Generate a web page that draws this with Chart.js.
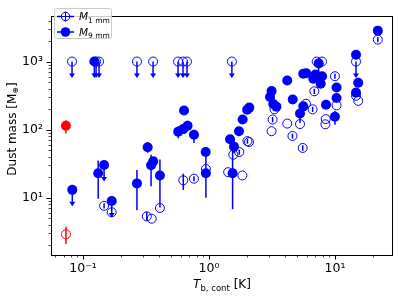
<!DOCTYPE html>
<html><head><meta charset="utf-8">
<script src="https://cdn.jsdelivr.net/npm/chart.js@4/dist/chart.umd.min.js"></script>
<style>html,body{margin:0;padding:0;background:#fff;}canvas{display:block;}</style>
</head><body>
<canvas id="c" width="399" height="297"></canvas>
<script>
// ---- data ----
// M_1mm detections (open circles)
const m1X  = [0.147, 0.169, 0.321, 0.351, 0.408, 0.625, 0.760, 0.945, 1.42, 1.84, 1.56, 1.74, 2.02, 2.08, 3.14, 3.20, 3.31, 4.18, 4.60, 5.28, 5.55, 5.89, 6.65, 6.86, 7.16, 7.90, 8.45, 8.40, 10.0, 10.3, 14.7, 15.3, 21.9];
const m1Y  = [7.64, 6.15, 5.35, 4.95, 7.1, 18.1, 19.1, 26.5, 23.8, 21.3, 43, 47, 68, 66, 95, 141, 199, 123, 81, 121, 54, 240, 199, 366, 1000, 1000, 143, 120, 609, 228, 315, 265, 2100];
const m1Lo = [7.0, null, 4.6, null, null, 13.0, 17.5, null, null, null, null, 43, 62, null, null, 129, null, null, 74, null, 49, null, 182, 335, null, null, null, null, 557, null, null, null, 1920];
const m1Hi = [8.3, null, 6.3, null, null, 22.5, 20.8, null, null, null, null, 51, 74, null, null, 154, null, null, 88, null, 59, null, 217, 400, null, null, null, null, 665, null, null, null, 2290];
// M_1mm upper limits
const m1LimX = [0.0818, 0.127, 0.134, 0.268, 0.360, 0.568, 0.622, 0.669, 1.52, 14.7];
const m1LimY = [1000, 1000, 1000, 1000, 1000, 1000, 1000, 1000, 1000, 1000];
// M_9mm detections (filled circles)
const m9X  = [0.132, 0.268, 0.326, 0.347, 0.361, 0.408, 0.570, 0.625, 0.634, 0.676, 0.760, 0.942, 0.945, 1.47, 1.58, 1.54, 1.73, 1.85, 2.01, 2.09, 3.05, 3.14, 3.24, 3.43, 4.18, 4.62, 5.28, 5.61, 5.60, 5.90, 6.73, 7.00, 7.43, 7.90, 7.70, 8.49, 10.0, 10.3, 10.3, 14.7, 15.3, 14.7, 21.9];
const m9Y  = [23.0, 16.3, 55.2, 30.1, 34.3, 21.3, 93.7, 102, 191, 114, 84.2, 47, 23, 72.3, 56.4, 23, 94.7, 141, 196, 211, 301, 370, 238, 218, 528, 277, 173, 220, 662, 676, 560, 643, 940, 608, 474, 232, 155, 417, 292, 1256, 490, 350, 2840];
const m9Lo = [9.7, 6.56, 46, 14.8, null, 7.2, 75, null, null, 95, 64, 40, 10, null, 45, 6.8, null, null, null, null, null, null, null, null, null, null, 125, null, null, null, null, null, 600, null, null, null, 118, null, null, 1100, null, null, null];
const m9Hi = [35.4, 25.6, 66, 43, null, 36.6, 112, null, null, 135, 100, 55, 40, null, 70, 60, null, null, null, null, null, null, null, null, null, null, 215, null, null, null, null, null, 1150, null, null, null, 190, null, null, 1430, null, null, null];
// M_9mm upper limits
const m9LimX = [0.0822, 0.123, 0.147, 0.169];
const m9LimY = [13.1, 1000, 30.4, 8.97];
// red source
const redX = [0.0732];
const redFillY = [114], redFillLo = [88],  redFillHi = [138];
const redOpenY = [2.92], redOpenLo = [2.11], redOpenHi = [3.78];
// axis ranges / labels
const xRange = [0.0557, 28.9];
const yRange = [1.45, 4740];
const xTitle = ['T', 'b, cont', ' [K]'];
const yTitle = ['Dust mass [M', '\u2295', ']'];
const legendLabels = [['M', '1 mm'], ['M', '9 mm']];

const BLUE = '#0000ff', RED = '#ff0000';
const F = '"DejaVu Sans"';

function pts(xs, ys){ return xs.map((x,i)=>({x:x, y:ys[i]})); }
const SUP = {'-':'\u207b','0':'\u2070','1':'\u00b9','2':'\u00b2','3':'\u00b3','4':'\u2074','5':'\u2075'};
function supStr(n){ return String(n).split('').map(c=>SUP[c]).join(''); }
function logTicks(min,max){
  const t=[];
  for(let e=-3;e<=4;e++) for(let m=1;m<=9;m++){
    const v=m*Math.pow(10,e);
    if(v>=min*0.999 && v<=max*1.001) t.push({value:v, major:m===1});
  }
  return t;
}
function tickLabel(v){
  const l=Math.log10(v), e=Math.round(l);
  return Math.abs(l-e)<1e-6 ? '10'+supStr(e) : '';
}
function rich(ctx, parts, x, y, align){
  let w=0;
  parts.forEach(p=>{ctx.font=p[1]; w+=ctx.measureText(p[0]).width;});
  let cx = align==='center' ? x-w/2 : x;
  parts.forEach(p=>{ctx.font=p[1]; ctx.fillText(p[0], cx, y+(p[2]||0)); cx+=ctx.measureText(p[0]).width;});
}

const datasets = [
  {data: pts(m1X,m1Y), errLo:m1Lo, errHi:m1Hi, pointRadius:4.5, borderWidth:1, borderColor:BLUE, backgroundColor:'rgba(0,0,0,0)'},
  {data: pts(m1LimX,m1LimY), upper:true, pointRadius:4.5, borderWidth:1, borderColor:BLUE, backgroundColor:'rgba(0,0,0,0)'},
  {data: pts(m9X,m9Y), errLo:m9Lo, errHi:m9Hi, pointRadius:5, borderWidth:0, borderColor:BLUE, backgroundColor:BLUE},
  {data: pts(m9LimX,m9LimY), upper:true, pointRadius:5, borderWidth:0, borderColor:BLUE, backgroundColor:BLUE},
  {data: pts(redX,redFillY), errLo:redFillLo, errHi:redFillHi, pointRadius:5, borderWidth:0, borderColor:RED, backgroundColor:RED},
  {data: pts(redX,redOpenY), errLo:redOpenLo, errHi:redOpenHi, pointRadius:4.5, borderWidth:1, borderColor:RED, backgroundColor:'rgba(0,0,0,0)'}
];

const decor = {
  id:'decor',
  beforeDatasetsDraw(chart){
    const ctx=chart.ctx, xs=chart.scales.x, ys=chart.scales.y, a=chart.chartArea;
    ctx.save();
    ctx.beginPath(); ctx.rect(a.left,a.top,a.right-a.left,a.bottom-a.top); ctx.clip();
    chart.data.datasets.forEach(ds=>{
      ctx.strokeStyle=ds.borderColor; ctx.fillStyle=ds.borderColor; ctx.lineWidth=1.5;
      ds.data.forEach((p,j)=>{
        const px=xs.getPixelForValue(p.x), py=ys.getPixelForValue(p.y);
        if(ds.errLo && ds.errLo[j]!=null){
          ctx.beginPath();
          ctx.moveTo(px, ys.getPixelForValue(ds.errLo[j]));
          ctx.lineTo(px, ys.getPixelForValue(ds.errHi[j]));
          ctx.stroke();
        }
        if(ds.upper){
          ctx.beginPath(); ctx.moveTo(px,py); ctx.lineTo(px,py+13); ctx.stroke();
          ctx.beginPath(); ctx.moveTo(px-3,py+12); ctx.lineTo(px+3,py+12); ctx.lineTo(px,py+16.5); ctx.closePath(); ctx.fill();
        }
      });
    });
    ctx.restore();
  },
  afterDraw(chart){
    const ctx=chart.ctx, xs=chart.scales.x, ys=chart.scales.y, a=chart.chartArea;
    ctx.save();
    // ticks
    ctx.strokeStyle='#000';
    xs.ticks.forEach(t=>{
      const px=Math.round(xs.getPixelForValue(t.value))+0.5;
      if(px<a.left-1||px>a.right+1) return;
      const maj=tickLabel(t.value)!=='';
      ctx.lineWidth=maj?1:0.7;
      ctx.beginPath(); ctx.moveTo(px,a.bottom); ctx.lineTo(px,a.bottom+(maj?4.5:2.5)); ctx.stroke();
    });
    ys.ticks.forEach(t=>{
      const py=Math.round(ys.getPixelForValue(t.value))+0.5;
      if(py<a.top-1||py>a.bottom+1) return;
      const maj=tickLabel(t.value)!=='';
      ctx.lineWidth=maj?1:0.7;
      ctx.beginPath(); ctx.moveTo(a.left,py); ctx.lineTo(a.left-(maj?4.5:2.5),py); ctx.stroke();
    });
    // frame
    ctx.lineWidth=1; ctx.strokeStyle='#000';
    ctx.strokeRect(Math.round(a.left)+0.5, Math.round(a.top)+0.5, Math.round(a.right-a.left)-1, Math.round(a.bottom-a.top)-1);
    // axis titles
    ctx.fillStyle='#000'; ctx.textBaseline='alphabetic';
    rich(ctx, [[xTitle[0],'italic 12px '+F,0],[xTitle[1],'8.5px '+F,3],[xTitle[2],'12px '+F,0]], 222, 287.5, 'center');
    ctx.save(); ctx.translate(15.5,129); ctx.rotate(-Math.PI/2);
    rich(ctx, [[yTitle[0],'12px '+F,0],[yTitle[1],'8px '+F,2.5],[yTitle[2],'12px '+F,0]], 0, 0, 'center');
    ctx.restore();
    // legend
    const bx=54.5, by=8.5, bw=57, bh=30;
    ctx.fillStyle='rgba(255,255,255,0.8)'; ctx.strokeStyle='#cccccc'; ctx.lineWidth=1;
    ctx.beginPath(); ctx.roundRect(bx,by,bw,bh,2); ctx.fill(); ctx.stroke();
    const rows=[16.5,32];
    rows.forEach((ry,i)=>{
      ctx.strokeStyle=BLUE; ctx.fillStyle=BLUE; ctx.lineWidth=1.5;
      ctx.beginPath(); ctx.moveTo(57,ry); ctx.lineTo(74,ry); ctx.stroke();
      if(i===0){
        ctx.beginPath(); ctx.moveTo(65.5,ry-5); ctx.lineTo(65.5,ry+5); ctx.stroke();
        ctx.lineWidth=1; ctx.fillStyle='#fff';
        ctx.beginPath(); ctx.arc(65.5,ry,4.2,0,Math.PI*2); ctx.fill(); ctx.stroke();
        ctx.beginPath(); ctx.moveTo(61,ry); ctx.lineTo(70,ry); ctx.moveTo(65.5,ry-4); ctx.lineTo(65.5,ry+4); ctx.stroke();
      } else {
        ctx.beginPath(); ctx.arc(65.5,ry,4.8,0,Math.PI*2); ctx.fill();
      }
      ctx.fillStyle='#000';
      rich(ctx, [[legendLabels[i][0],'italic 10.5px '+F,0],[legendLabels[i][1],'7.5px '+F,2.5]], 79, ry+3.8, 'left');
    });
    ctx.restore();
  }
};

new Chart(document.getElementById('c'), {
  type:'scatter',
  data:{datasets:datasets},
  options:{
    responsive:false, animation:false, devicePixelRatio:1,
    layout:{padding:{top:5,right:6,left:0,bottom:0}},
    plugins:{legend:{display:false}, tooltip:{enabled:false}},
    scales:{
      x:{type:'logarithmic', min:xRange[0], max:xRange[1],
         afterBuildTicks:s=>{s.ticks=logTicks(xRange[0],xRange[1]);},
         afterFit:s=>{s.height=42;},
         grid:{display:true, drawOnChartArea:false, drawTicks:false},
         border:{display:false},
         ticks:{autoSkip:false, maxRotation:0, minRotation:0, padding:6, color:'#000', font:{family:'DejaVu Sans', size:12.5}, callback:v=>tickLabel(v)}},
      y:{type:'logarithmic', min:yRange[0], max:yRange[1],
         afterBuildTicks:s=>{s.ticks=logTicks(yRange[0],yRange[1]);},
         afterFit:s=>{s.width=51;},
         grid:{display:true, drawOnChartArea:false, drawTicks:false},
         border:{display:false},
         ticks:{autoSkip:false, padding:8, color:'#000', font:{family:'DejaVu Sans', size:12.5}, callback:v=>tickLabel(v)}}
    }
  },
  plugins:[decor]
});
</script>
</body></html>
